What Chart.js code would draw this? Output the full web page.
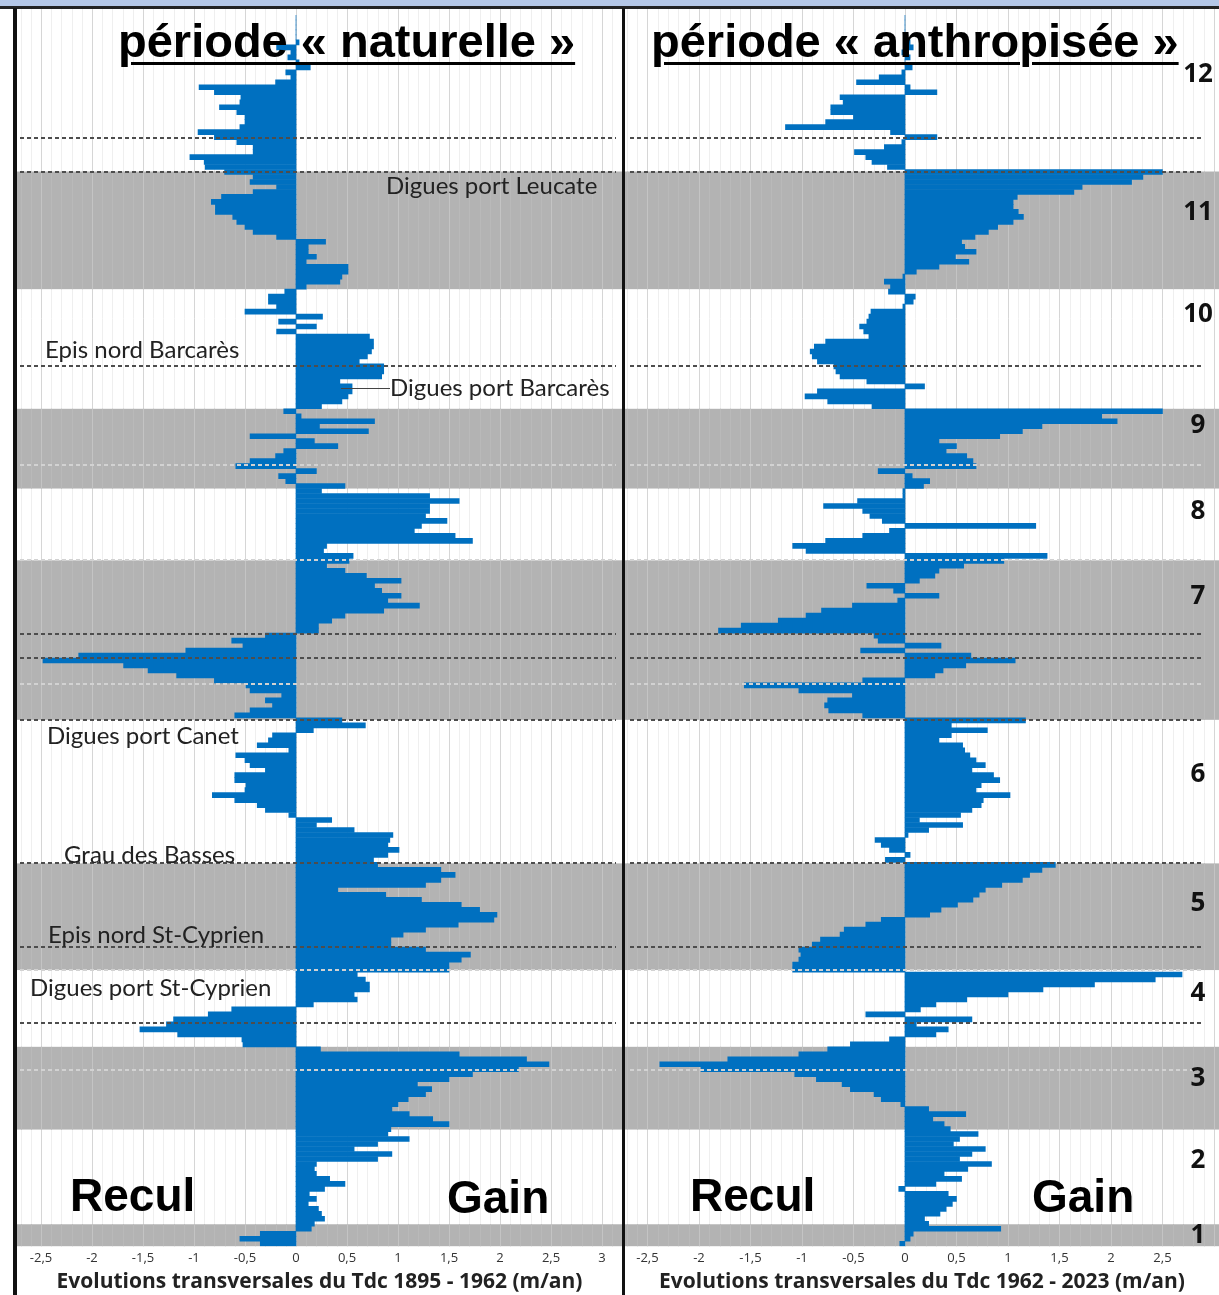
<!DOCTYPE html>
<html><head><meta charset="utf-8">
<script src="https://cdn.jsdelivr.net/npm/chart.js@4.4.0/dist/chart.umd.min.js"></script>
<style>
html,body{margin:0;padding:0;background:#fff;}
#wrap{position:relative;width:1219px;height:1295px;overflow:hidden;background:#fff;}
canvas{position:absolute;top:0;}
#cL{left:17px;}
#cR{left:625px;}
.abs{position:absolute;}
#topband{left:0;top:0;width:1219px;height:6px;background:#b4c7e7;}
#topline{left:0;top:6px;width:1219px;height:3px;background:#222;}
#lborder{left:13px;top:8px;width:4px;height:1287px;background:#111;}
#sep{left:622px;top:8px;width:3px;height:1287px;background:#111;}
.title{font-family:"Liberation Sans",Arial,sans-serif;font-weight:bold;font-size:47px;line-height:47px;color:#000;text-decoration:underline;text-decoration-thickness:3px;text-underline-offset:5px;white-space:nowrap;}
.big{font-family:"Liberation Sans",Arial,sans-serif;font-weight:bold;font-size:46px;line-height:46px;color:#000;white-space:nowrap;}
.ann{font-family:Lato,"Open Sans",sans-serif;font-size:24px;line-height:24px;color:#222;white-space:nowrap;}
.sec{font-family:"Open Sans","Noto Sans",sans-serif;font-weight:bold;font-size:26px;line-height:26px;color:#111;width:60px;text-align:center;left:1168px;}
</style></head>
<body><div id="wrap">
<canvas id="cL" width="605" height="1295"></canvas>
<canvas id="cR" width="594" height="1295"></canvas>
<div class="abs" id="topband"></div>
<div class="abs" id="topline"></div>
<div class="abs" id="lborder"></div>
<div class="abs" id="sep"></div>
<div class="abs title" style="left:118px;top:17px;">période « naturelle »</div>
<div class="abs title" style="left:651px;top:17px;">période « anthropisée »</div>
<div class="abs big" style="left:70px;top:1172px;">Recul</div>
<div class="abs big" style="left:447px;top:1174px;">Gain</div>
<div class="abs big" style="left:690px;top:1172px;">Recul</div>
<div class="abs big" style="left:1032px;top:1173px;">Gain</div>
<div class="abs ann" style="left:386px;top:173px;">Digues port Leucate</div>
<div class="abs ann" style="left:45px;top:337px;">Epis nord Barcarès</div>
<div class="abs" style="left:341px;top:388px;width:49px;height:1px;background:#444;"></div>
<div class="abs ann" style="left:390px;top:375px;">Digues port Barcarès</div>
<div class="abs ann" style="left:47px;top:723px;">Digues port Canet</div>
<div class="abs ann" style="left:64px;top:842px;">Grau des Basses</div>
<div class="abs ann" style="left:48px;top:922px;">Epis nord St-Cyprien</div>
<div class="abs ann" style="left:30px;top:975px;">Digues port St-Cyprien</div>
<div id="secs"></div>
</div>
<script>
// ---- data ----
const N = 247;
const profiles = Array.from({length: N}, (_, i) => i + 1);
const evolNaturelle = [
0,0,0,0,0, 0.03,-0.19,-0.05,-0.08,0.03, 0.14,-0.1,-0.05,-0.2,-0.95,
-0.8,-0.54,-0.55,-0.75,-0.58, -0.5,-0.5,-0.55,-0.96,-0.8, -0.58,-0.42,-0.42,-1.04,-0.9,
-0.89,-0.7,-0.42,-0.45,-0.19, -0.42,-0.73,-0.83,-0.79,-0.79, -0.62,-0.58,-0.5,-0.42,-0.19,
0.29,0.12,0.12,0.2,0.1, 0.51,0.51,0.45,0.43,0.1, -0.11,-0.27,-0.27,-0.19,-0.5,
0.26,-0.17,0.2,-0.19,0.72, 0.76,0.76,0.74,0.7,0.62, 0.86,0.86,0.84,0.43,0.55,
0.55,0.51,0.45,0.25,-0.12, 0.05,0.77,0.23,0.71,-0.45, 0.18,0.41,-0.12,-0.2,-0.45,
-0.59,0.2,-0.17,-0.1,0.48, 0.25,1.31,1.6,1.31,1.31, 1.27,1.48,1.23,1.16,1.56,
1.73,0.3,0.27,0.56,0.52, 0.3,0.48,0.69,1.03,0.77, 0.84,1.03,0.9,1.21,0.86,
0.48,0.35,0.22,0.22,-0.3, -0.63,-0.52,-1.08,-2.13,-2.48, -1.69,-1.45,-1.17,-0.8,-0.49,
-0.45,-0.14,-0.3,-0.23,-0.45, -0.6,0.45,0.68,0.17,-0.23, -0.27,-0.38,-0.07,-0.59,-0.5,
-0.45,-0.3,-0.6,-0.6,-0.49, -0.5,-0.82,-0.6,-0.38,-0.3, -0.07,0.35,0.2,0.57,0.95,
0.92,0.9,1.01,0.9,0.76, 0.8,1.42,1.56,1.42,1.27, 0.41,0.88,1.23,1.62,1.8,
1.97,1.94,1.59,1.27,1.05, 0.93,0.93,1.27,1.71,1.62, 1.5,1.5,0.6,0.68,0.72,
0.72,0.57,0.6,0.17,-0.63, -0.86,-1.2,-1.27,-1.53,-1.16, -0.53,-0.52,0.24,1.6,2.26,
2.48,2.18,1.73,1.5,1.19, 1.33,1.27,1.1,1.0,0.94, 1.11,1.34,1.5,0.93,0.9,
1.11,0.8,0.57,0.94,0.8, 0.2,0.18,0.2,0.33,0.48, 0.28,0.13,0.2,0.12,0.22,
0.25,0.28,0.18,0.15,-0.35, -0.55,-0.35
];
const evolAnthropisee = [
0,0,0,0,0, 0.05,0.08,-0.03,0.05,0, 0.07,-0.03,-0.25,-0.47,0.05,
0.31,-0.63,-0.6,-0.72,-0.72, -0.5,-0.77,-1.16,-0.14,0.31, -0.03,-0.2,-0.49,-0.38,-0.32,
-0.17,2.5,2.31,2.2,1.72, 1.64,1.09,1.05,1.05,1.1, 1.15,1.05,0.9,0.81,0.68,
0.55,0.58,0.69,0.49,0.62, 0.33,0.11,-0.02,-0.2,-0.14, -0.16,0.1,0.08,-0.02,-0.33,
-0.35,-0.37,-0.44,-0.4,-0.35, -0.77,-0.88,-0.92,-0.9,-0.85, -0.69,-0.67,-0.63,-0.37,0.19,
-0.85,-0.97,-0.75,-0.32,2.5, 1.91,2.06,1.33,1.14,0.92, 0.33,0.5,0.4,0.6,0.66,
0.69,-0.26,0.07,0.24,0.18, -0.02,-0.02,-0.46,-0.79,-0.41, -0.34,-0.22,1.27,-0.15,-0.41,
-0.77,-1.09,-0.96,1.38,0.96, 0.57,0.33,0.29,0.14,-0.37, -0.11,0.33,-0.07,-0.51,-0.81,
-0.96,-1.23,-1.59,-1.81,-0.3, -0.26,0.35,-0.43,0.64,1.07, 0.59,0.37,0.29,-0.41,-1.56,
-1.03,-0.51,-0.75,-0.78,-0.74, -0.41,1.17,0.45,0.8,0.45, 0.33,0.56,0.58,0.63,0.69,
0.78,0.65,0.86,0.92,0.74, 0.69,1.02,0.76,0.74,0.65, 0.54,0.14,0.56,0.23,0.03,
-0.29,-0.23,-0.15,0.05,-0.19, 1.46,1.33,1.21,1.14,0.94, 0.78,0.72,0.66,0.51,0.35,
0.24,-0.23,-0.38,-0.59,-0.63, -0.82,-0.9,-1.03,-1.01,-1.03, -1.09,-1.09,2.69,2.43,1.84,
1.34,1.0,0.6,0.3,0.15, -0.38,0.65,0.11,0.42,0.3, -0.15,-0.53,-0.75,-1.03,-1.72,
-2.38,-1.98,-1.07,-0.86,-0.61, -0.53,-0.3,-0.23,-0.04,0.23, 0.59,0.27,0.38,0.44,0.71,
0.53,0.47,0.78,0.65,0.53, 0.84,0.61,0.38,0.55,0.3, -0.06,0.42,0.5,0.46,0.4,
0.34,0.19,0.23,0.93,0.08, 0.05,-0.05
];
const ticksNaturelle = [-2.5,-2,-1.5,-1,-0.5,0,0.5,1,1.5,2,2.5,3];
const ticksAnthropisee = [-2.5,-2,-1.5,-1,-0.5,0,0.5,1,1.5,2,2.5];
// sector bands (profile index units) and sector numbers
const grayBands = [[31.4,55],[79,95],[109.4,141.4],[170.2,191.6],[207,223.6],[242.6,247]];
const darkDashes = [24.6,31.4,70.4,124.2,129,141.4,170.2,187,202.2];
const lightDashes = [90.2,109.4,134.2,191.6,211.6];
const sectorNames = ['12','11','10','9','8','7','6','5','4','3','2','1'];
const sectorCenters = [11.5,39.3,59.7,82.1,99.3,116.3,152.1,177.9,195.9,213.1,229.5,244.5];

const bgPlugin = {
  id: 'bg',
  beforeDatasetsDraw(chart, args, opts) {
    const {ctx, chartArea: a, scales: {x, y}} = chart;
    ctx.save();
    const lo = Math.ceil(x.min * 10), hi = Math.floor(x.max * 10);
    const top = a.top - 6;
    for (let k = lo; k <= hi; k++) {
      const px = Math.round(x.getPixelForValue(k / 10)) + 0.5;
      ctx.strokeStyle = (k % 5 === 0) ? '#d6d6d6' : '#efefef';
      ctx.lineWidth = 1;
      ctx.beginPath(); ctx.moveTo(px, top); ctx.lineTo(px, a.bottom); ctx.stroke();
    }
    ctx.fillStyle = '#b3b3b3';
    grayBands.forEach(([s, e]) => {
      const y0 = y.getPixelForValue(s), y1 = y.getPixelForValue(e);
      ctx.fillRect(a.left, y0, a.right - a.left, y1 - y0);
      for (let k = lo; k <= hi; k++) {
        const px = Math.round(x.getPixelForValue(k / 10)) + 0.5;
        ctx.strokeStyle = (k % 5 === 0) ? '#c4c4c4' : '#b9b9b9';
        ctx.beginPath(); ctx.moveTo(px, y0); ctx.lineTo(px, y1); ctx.stroke();
      }
    });
    ctx.restore();
  },
  afterDatasetsDraw(chart, args, opts) {
    const {ctx, chartArea: a, scales: {y}} = chart;
    ctx.save();
    ctx.lineWidth = 2;
    ctx.setLineDash([4, 3]);
    const draw = (arr, col) => {
      ctx.strokeStyle = col;
      arr.forEach(v => {
        const py = Math.round(y.getPixelForValue(v));
        ctx.beginPath(); ctx.moveTo(a.left + opts.inL, py); ctx.lineTo(a.right - opts.inR, py); ctx.stroke();
      });
    };
    draw(lightDashes, '#d2d2d2');
    draw(darkDashes, '#4d4d4d');
    ctx.restore();
  }
};

function makeChart(id, values, xmin, xmax, ticks, title, inL, inR) {
  return new Chart(document.getElementById(id), {
    type: 'bar',
    data: {
      datasets: [{
        data: values.map((v, i) => ({x: v, y: profiles[i] - 0.5})),
        backgroundColor: '#0070c0',
        borderWidth: 0,
        barPercentage: 1,
        categoryPercentage: 1
      }]
    },
    options: {
      indexAxis: 'y',
      responsive: false,
      animation: false,
      layout: {padding: {top: 15, bottom: 0, left: 0, right: 0}},
      plugins: {legend: {display: false}, tooltip: {enabled: false}, bg: {inL, inR}},
      scales: {
        y: {type: 'linear', reverse: true, min: 0, max: N, offset: false, grace: 0, display: false},
        x: {
          type: 'linear', min: xmin, max: xmax, offset: false,
          grid: {display: false, drawTicks: false},
          border: {display: false},
          afterBuildTicks: s => { s.ticks = ticks.map(v => ({value: v})); },
          ticks: {
            autoSkip: false, maxRotation: 0, padding: 4, color: '#333',
            font: {family: 'Open Sans', size: 13},
            callback: v => String(v).replace('.', ',')
          },
          title: {
            display: true, text: title, color: '#222',
            font: {family: 'Open Sans', size: 21, weight: 'bold'},
            padding: {top: 0, bottom: 0}
          }
        }
      }
    },
    plugins: [bgPlugin]
  });
}

makeChart('cL', evolNaturelle, -2.735, 3.196, ticksNaturelle,
  'Evolutions transversales du Tdc 1895 - 1962 (m/an)', 3, 6);
const chartR = makeChart('cR', evolAnthropisee, -2.718, 3.049, ticksAnthropisee,
  'Evolutions transversales du Tdc 1962 - 2023 (m/an)', 5, 17);

const ys = chartR.scales.y;
const secs = document.getElementById('secs');
sectorNames.forEach((n, i) => {
  const d = document.createElement('div');
  d.className = 'abs sec';
  d.textContent = n;
  d.style.top = (ys.getPixelForValue(sectorCenters[i]) - 13.8) + 'px';
  secs.appendChild(d);
});
</script>
</body></html>
